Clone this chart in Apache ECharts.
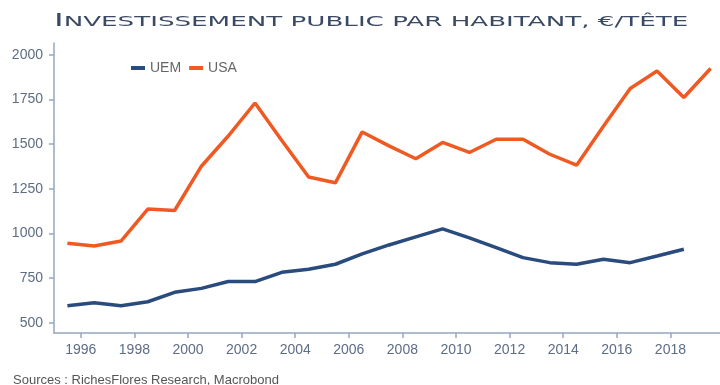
<!DOCTYPE html>
<html>
<head>
<meta charset="utf-8">
<script src="https://cdn.jsdelivr.net/npm/echarts@6/dist/echarts.min.js"></script>
<style>
  html, body { margin: 0; padding: 0; background: #fff; }
  #main { width: 720px; height: 385px; }
</style>
</head>
<body>
<div id="main"></div>
<script>
// annual values, plotted at mid-year like the original
var years = [1995, 1996, 1997, 1998, 1999, 2000, 2001, 2002, 2003, 2004, 2005, 2006,
  2007, 2008, 2009, 2010, 2011, 2012, 2013, 2014, 2015, 2016, 2017, 2018, 2019];
var uem = [595, 612, 595, 617, 670, 692, 730, 730, 782, 799, 827, 885,
  935, 980, 1025, 975, 920, 864, 836, 827, 855, 836, 873, 911];
var usa = [944, 929, 957, 1136, 1128, 1376, 1545, 1730, 1520, 1316, 1283, 1568,
  1490, 1418, 1509, 1453, 1527, 1527, 1443, 1382, 1600, 1811, 1909, 1761, 1923];
var yearTicks = [1996, 1998, 2000, 2002, 2004, 2006, 2008, 2010, 2012, 2014, 2016, 2018];
var valueTicks = [500, 750, 1000, 1250, 1500, 1750, 2000];

function pairs(vals) {
  return vals.map(function (v, i) { return [years[i] + 0.5, v]; });
}

var chart = echarts.init(document.getElementById('main'));

var axisColor = '#95a7c0';
var labelColor = '#5d6d84';

var option = {
  animation: false,
  color: ['#2a4b7d', '#ef5a23'],
  grid: { left: 54, right: 0, top: 43, bottom: 52 },
  legend: {
    left: 126,
    top: 56,
    icon: 'rect',
    itemWidth: 14,
    itemHeight: 4,
    itemGap: 8,
    textStyle: { fontFamily: 'Liberation Sans', fontSize: 14, color: '#666' },
    data: ['UEM', 'USA']
  },
  xAxis: {
    type: 'value',
    min: 1995,
    max: 2019.85,
    splitLine: { show: false },
    axisLine: { lineStyle: { color: axisColor, width: 1.5 } },
    axisTick: { show: true, length: 5, customValues: yearTicks, lineStyle: { color: axisColor, width: 1.5 } },
    axisLabel: {
      customValues: yearTicks,
      formatter: function (v) { return String(v); },
      margin: 10,
      color: labelColor,
      fontFamily: 'Liberation Sans',
      fontSize: 14
    }
  },
  yAxis: {
    type: 'value',
    min: 442,
    max: 2066,
    splitLine: { show: false },
    axisLine: { show: true, lineStyle: { color: axisColor, width: 1.5 } },
    axisTick: { show: true, length: 5, customValues: valueTicks, lineStyle: { color: axisColor, width: 1.5 } },
    axisLabel: {
      customValues: valueTicks,
      formatter: function (v) { return String(v); },
      margin: 11,
      color: labelColor,
      fontFamily: 'Liberation Sans',
      fontSize: 14
    }
  },
  graphic: [
    {
      type: 'text',
      x: 54,
      y: 11,
      scaleX: 1.78,
      style: {
        text: '{a|I}{b|NVESTISSEMENT PUBLIC PAR HABITANT, €/TÊTE}',
        fill: '#3b4a64',
        rich: {
          a: { fontFamily: 'DejaVu Sans', fontSize: 18.4, lineHeight: 19, verticalAlign: 'bottom', fill: '#3b4a64' },
          b: { fontFamily: 'DejaVu Sans', fontSize: 14.7, lineHeight: 19, verticalAlign: 'bottom', fill: '#3b4a64' }
        }
      }
    },
    {
      type: 'text',
      x: 13,
      y: 374,
      style: {
        text: 'Sources : RichesFlores Research, Macrobond',
        fill: '#555',
        font: '13px "Liberation Sans"'
      }
    }
  ],
  series: [
    {
      name: 'UEM',
      type: 'line',
      data: pairs(uem),
      showSymbol: false,
      lineStyle: { width: 3.5 }
    },
    {
      name: 'USA',
      type: 'line',
      data: pairs(usa),
      showSymbol: false,
      lineStyle: { width: 3.5 }
    }
  ]
};

chart.setOption(option);
</script>
</body>
</html>
